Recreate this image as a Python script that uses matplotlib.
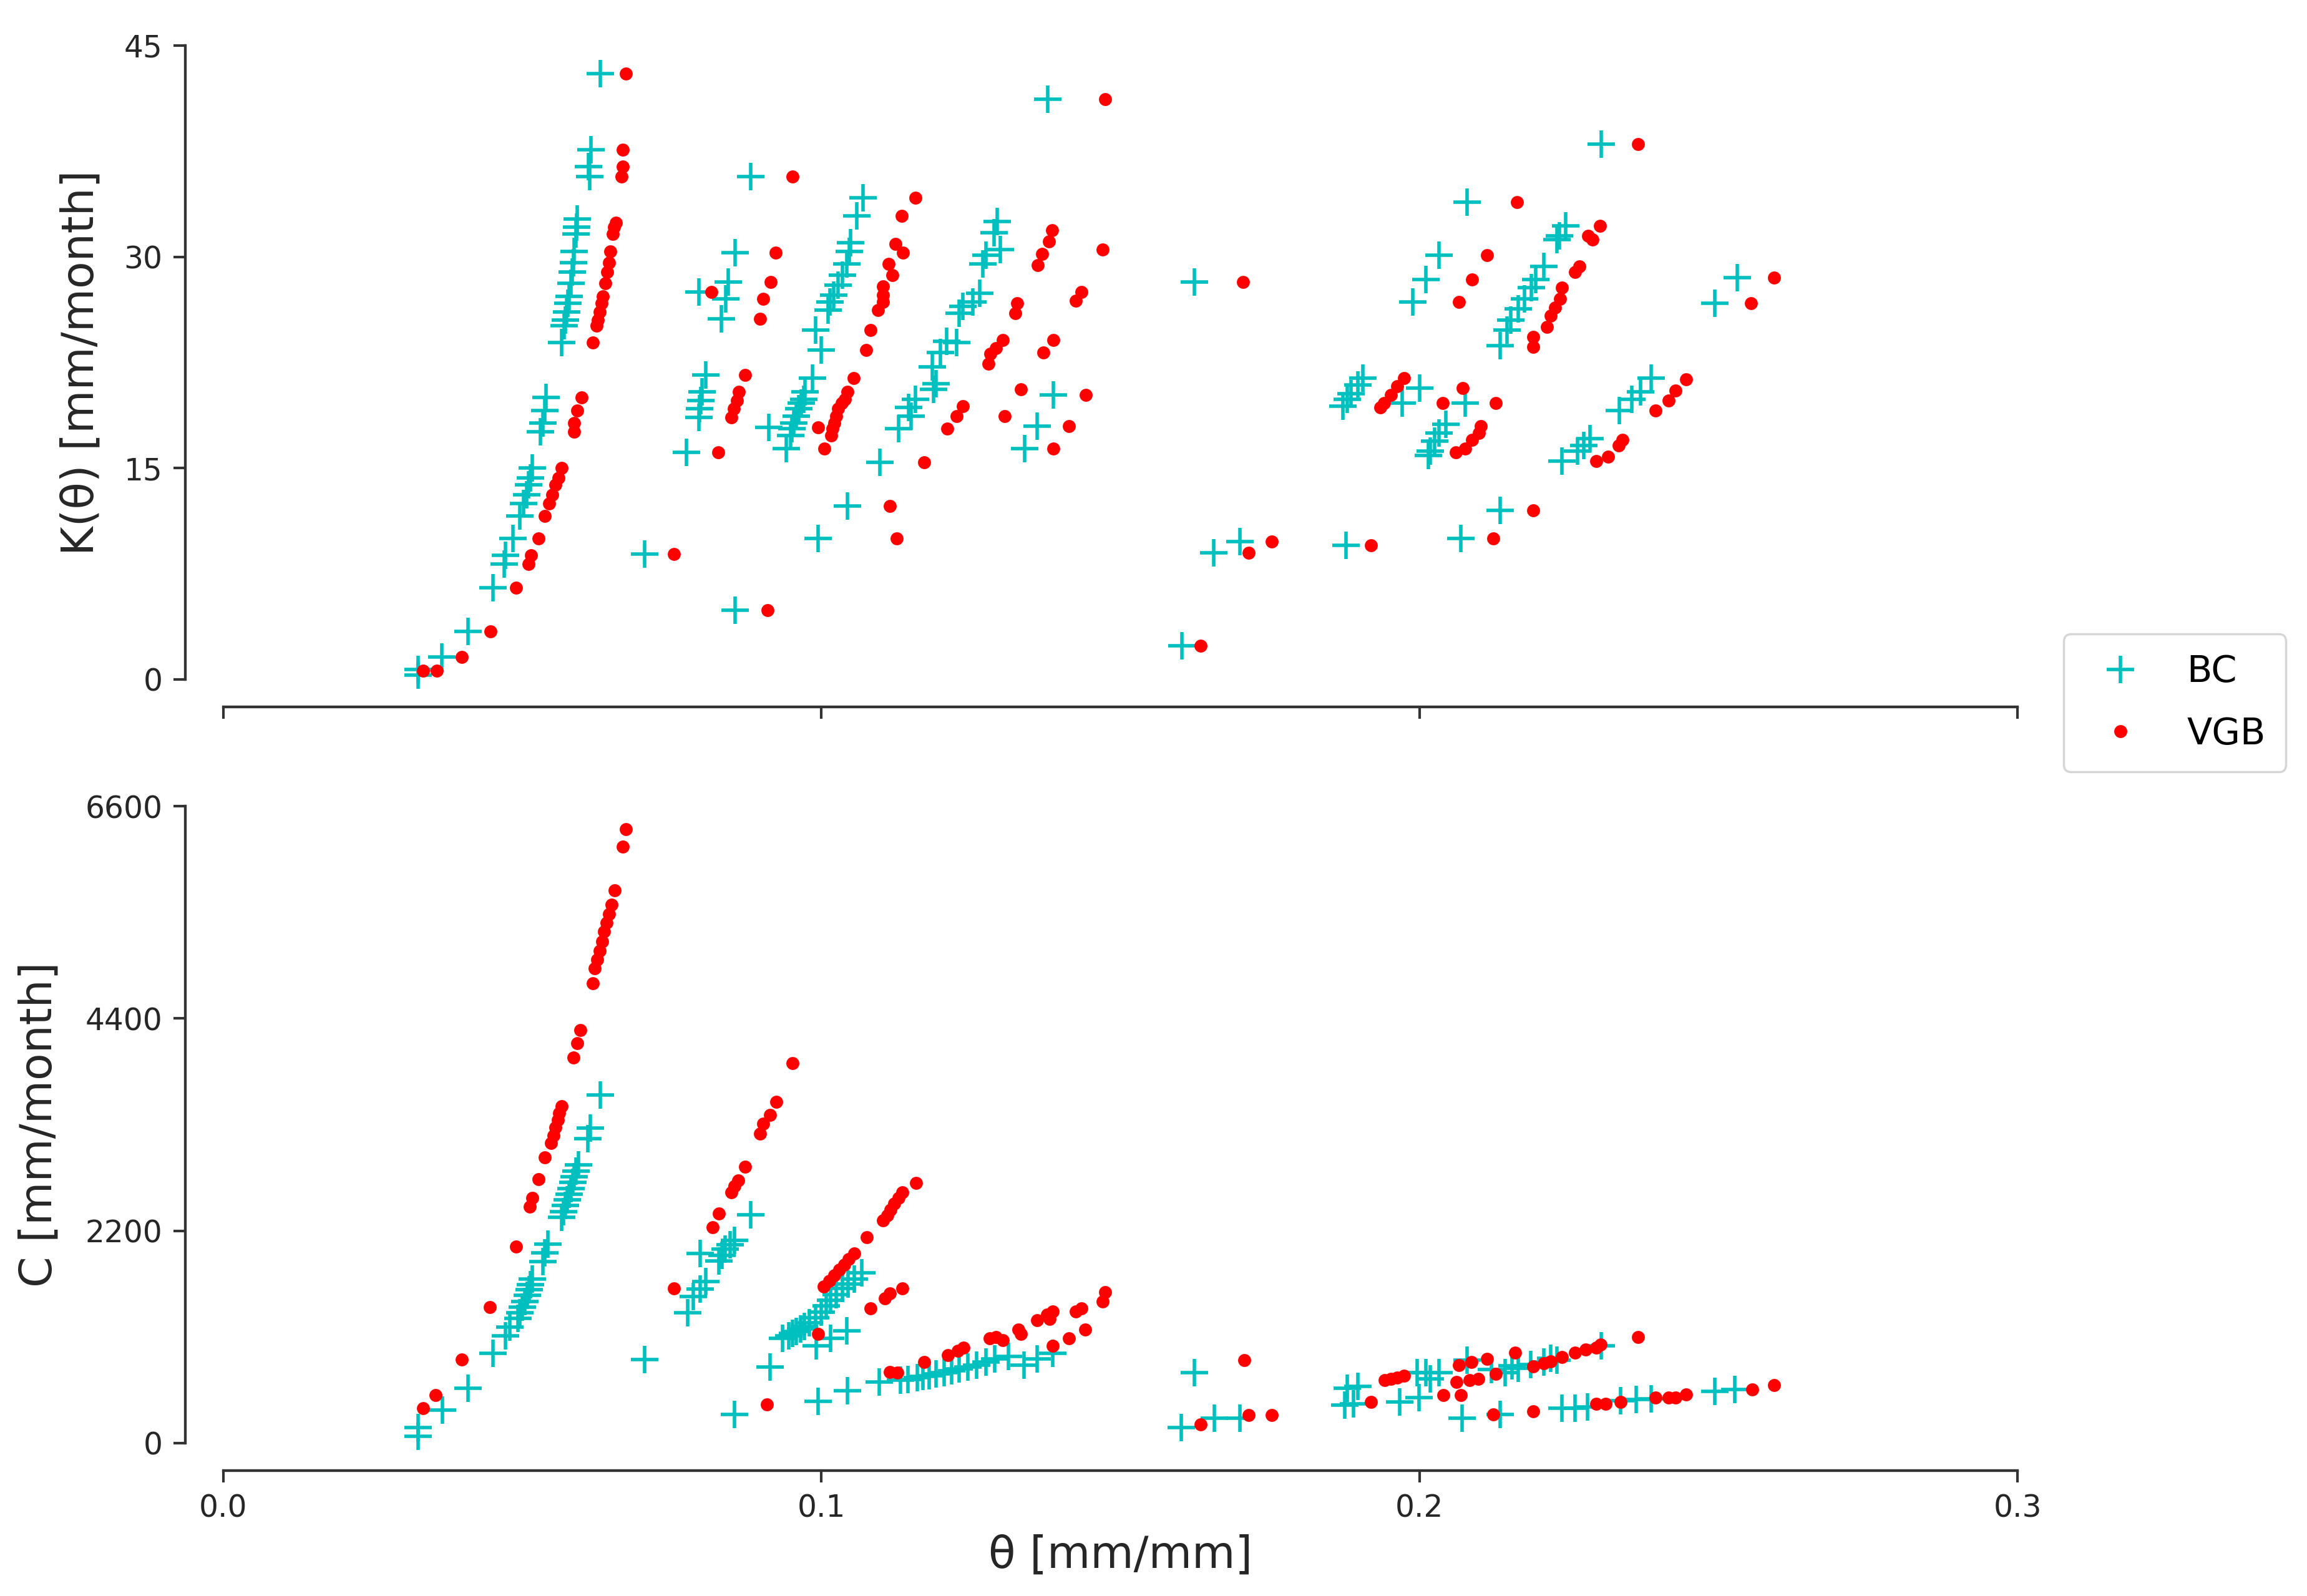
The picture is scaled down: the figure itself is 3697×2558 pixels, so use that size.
import matplotlib
matplotlib.use("Agg")
import matplotlib.pyplot as plt

# ---------------- data: upper panel K(theta) ----------------
theta_bc_k = [
    0.0326, 0.0326, 0.0365, 0.0409, 0.0451, 0.0470, 0.0472, 0.0484, 0.0496, 0.0502,
    0.0507, 0.0510, 0.0513, 0.0517, 0.0530, 0.0534, 0.0537, 0.0540,
    0.0566, 0.0570, 0.0572, 0.0574, 0.0576, 0.0578, 0.0581, 0.0583, 0.0585, 0.0587,
    0.0590, 0.0591, 0.0592, 0.0613, 0.0611, 0.0615, 0.0630,
    0.0704, 0.0882, 0.0856, 0.0844, 0.0795, 0.0840, 0.0833, 0.0807, 0.0800, 0.0798,
    0.0796, 0.0795, 0.0774, 0.0856,
    0.1070, 0.1059, 0.1049, 0.1047, 0.1042, 0.1035, 0.1028, 0.1021, 0.1014, 0.1011,
    0.0990, 0.1000,
    0.0985, 0.0973, 0.0970, 0.0966, 0.0962, 0.0958, 0.0954, 0.0951, 0.0949, 0.0912,
    0.0941, 0.1098, 0.1044, 0.0995,
    0.1237, 0.1230, 0.1209, 0.1226, 0.1199, 0.1185, 0.1192, 0.1188, 0.1157, 0.1146,
    0.1150, 0.1129, 0.1294, 0.1289, 0.1299, 0.1275, 0.1270, 0.1265, 0.1253,
    0.1388, 0.1361, 0.1340, 0.1378, 0.1603,
    0.2304, 0.2080, 0.2033, 0.2011, 0.1989, 0.1624, 0.2531, 0.2494,
    0.2245, 0.2234, 0.2230, 0.2208, 0.2194, 0.2187, 0.2176, 0.2165, 0.2153, 0.2146, 0.2135,
    0.1905, 0.1897, 0.1886, 0.1879, 0.1872, 0.2000, 0.1971, 0.2077,
    0.2044, 0.2033, 0.2025, 0.2018, 0.2015,
    0.2388, 0.2370, 0.2355, 0.2334, 0.2285, 0.2275, 0.2264, 0.2238,
    0.2135, 0.2069, 0.1700, 0.1656, 0.1877,
]
k_bc = [
    0.7, 0.3, 1.6, 3.4, 6.5, 8.2, 8.8, 10.0, 11.6, 12.5,
    13.1, 13.8, 14.3, 15.0, 17.6, 18.2, 19.1, 20.0,
    23.9, 25.1, 25.5, 26.1, 26.7, 27.2, 28.1, 28.9, 29.6, 30.4,
    31.6, 32.1, 32.7, 35.7, 36.4, 37.6, 43.0,
    8.9, 35.7, 30.3, 28.2, 27.5, 27.0, 25.6, 21.6, 20.4, 19.8,
    19.2, 18.6, 16.1, 4.9,
    34.2, 32.9, 31.0, 30.4, 29.5, 28.7, 28.0, 27.3, 26.8, 26.2,
    24.8, 23.4,
    21.4, 20.4, 19.9, 19.6, 19.2, 18.7, 18.2, 17.8, 17.3, 17.9,
    16.4, 15.4, 12.3, 10.0,
    26.5, 26.0, 24.0, 23.9, 23.2, 22.2, 21.0, 20.6, 19.9, 19.3,
    18.7, 17.8, 32.5, 31.7, 30.5, 30.1, 29.5, 27.4, 26.8,
    20.2, 18.0, 16.4, 41.2, 2.4,
    38.0, 33.9, 30.1, 28.4, 26.8, 28.2, 28.5, 26.7,
    32.2, 31.5, 31.2, 29.3, 28.4, 27.8, 27.0, 26.3, 25.5, 24.8, 23.7,
    21.4, 20.9, 20.3, 19.9, 19.4, 20.7, 19.6, 19.6,
    18.1, 17.5, 16.9, 16.2, 15.9,
    21.4, 20.4, 19.9, 19.1, 17.1, 16.6, 16.2, 15.5,
    12.0, 10.0, 9.8, 9.0, 9.5,
]
theta_vgb_k = [
    0.0334, 0.0357, 0.0399, 0.0447, 0.0489, 0.0510, 0.0515, 0.0527, 0.0538, 0.0545,
    0.0550, 0.0555, 0.0560, 0.0566, 0.0587, 0.0587, 0.0592, 0.0599,
    0.0618, 0.0624, 0.0626, 0.0629, 0.0632, 0.0635, 0.0639, 0.0642, 0.0645, 0.0647,
    0.0651, 0.0653, 0.0656, 0.0666, 0.0668, 0.0668, 0.0673,
    0.0753, 0.0952, 0.0924, 0.0915, 0.0816, 0.0903, 0.0898, 0.0872, 0.0862, 0.0859,
    0.0854, 0.0850, 0.0828, 0.0910,
    0.1157, 0.1134, 0.1124, 0.1136, 0.1112, 0.1119, 0.1103, 0.1103, 0.1103, 0.1095,
    0.1082, 0.1075,
    0.1054, 0.1044, 0.1039, 0.1034, 0.1028, 0.1025, 0.1022, 0.1019, 0.1016, 0.0995,
    0.1005, 0.1172, 0.1114, 0.1126,
    0.1386, 0.1381, 0.1369, 0.1362, 0.1470, 0.1435, 0.1425, 0.1327, 0.1324, 0.1303,
    0.1292, 0.1282, 0.1279, 0.1388, 0.1371, 0.1334, 0.1237, 0.1226, 0.1211, 0.1307,
    0.1442, 0.1414, 0.1388, 0.1474, 0.1634,
    0.2366, 0.2163, 0.2113, 0.2088, 0.2066, 0.1705, 0.2593, 0.2554,
    0.2302, 0.2282, 0.2289, 0.2268, 0.2260, 0.2238, 0.2235, 0.2227, 0.2220, 0.2213,
    0.2190, 0.2190,
    0.1974, 0.1963, 0.1952, 0.1941, 0.1935, 0.2072, 0.2039, 0.2128,
    0.2103, 0.2099, 0.2088, 0.2077, 0.2061,
    0.2446, 0.2428, 0.2417, 0.2395, 0.2340, 0.2333, 0.2315, 0.2296,
    0.2190, 0.2124, 0.1753, 0.1714, 0.1919,
]
k_vgb = [
    0.6, 0.6, 1.6, 3.4, 6.5, 8.2, 8.8, 10.0, 11.6, 12.5,
    13.1, 13.8, 14.3, 15.0, 17.6, 18.2, 19.1, 20.0,
    23.9, 25.1, 25.5, 26.1, 26.7, 27.2, 28.1, 28.9, 29.6, 30.4,
    31.6, 32.1, 32.4, 35.7, 36.4, 37.6, 43.0,
    8.9, 35.7, 30.3, 28.2, 27.5, 27.0, 25.6, 21.6, 20.4, 19.8,
    19.2, 18.6, 16.1, 4.9,
    34.2, 32.9, 30.9, 30.3, 29.5, 28.7, 27.9, 27.3, 26.8, 26.2,
    24.8, 23.4,
    21.4, 20.4, 19.9, 19.6, 19.2, 18.7, 18.2, 17.8, 17.3, 17.9,
    16.4, 15.4, 12.3, 10.0,
    31.9, 31.1, 30.2, 29.4, 30.5, 27.5, 26.9, 26.7, 26.0, 24.1,
    23.5, 23.1, 22.4, 24.1, 23.2, 20.6, 19.4, 18.7, 17.8, 18.7,
    20.2, 18.0, 16.4, 41.2, 2.4,
    38.0, 33.9, 30.1, 28.4, 26.8, 28.2, 28.5, 26.7,
    32.2, 31.5, 31.2, 29.3, 28.9, 27.8, 27.0, 26.4, 25.8, 25.0,
    24.3, 23.6,
    21.4, 20.8, 20.2, 19.6, 19.3, 20.7, 19.6, 19.6,
    18.0, 17.5, 17.0, 16.4, 16.1,
    21.3, 20.5, 19.8, 19.1, 17.0, 16.6, 15.8, 15.5,
    12.0, 10.0, 9.8, 9.0, 9.5,
]

# ---------------- data: lower panel C(theta) ----------------
theta_bc_c = [
    0.0326, 0.0326, 0.0366, 0.0409, 0.0451, 0.0472, 0.0479, 0.0493, 0.0496, 0.0500,
    0.0504, 0.0508, 0.0511, 0.0514, 0.0517, 0.0534, 0.0538, 0.0543,
    0.0566, 0.0569, 0.0572, 0.0575, 0.0578, 0.0581, 0.0584, 0.0587, 0.0590, 0.0594,
    0.0609, 0.0614, 0.0630, 0.0704,
    0.0882, 0.0855, 0.0847, 0.0839, 0.0834, 0.0829, 0.0797, 0.0807, 0.0797, 0.0786,
    0.0776, 0.0914, 0.0855,
    0.0935, 0.0945, 0.0952, 0.0958, 0.0965, 0.0972, 0.0980, 0.0990, 0.1000, 0.1008,
    0.1015, 0.1025, 0.1035, 0.1045, 0.1055, 0.1068,
    0.1042, 0.1015, 0.0991, 0.0994, 0.1044, 0.1097,
    0.1132, 0.1145, 0.1160, 0.1170, 0.1180, 0.1192, 0.1205, 0.1218, 0.1230, 0.1245,
    0.1260, 0.1275, 0.1290, 0.1313, 0.1339, 0.1361, 0.1387,
    0.1624, 0.1602, 0.1657, 0.1700, 0.1879, 0.1897, 0.1890, 0.1875,
    0.1996, 0.2011, 0.2033, 0.2018, 0.1967, 0.1999, 0.2071, 0.2135,
    0.2080, 0.2143, 0.2165, 0.2186, 0.2208, 0.2230, 0.2304, 0.2120, 0.2155, 0.2220,
    0.2238, 0.2260, 0.2281, 0.2336, 0.2362, 0.2388, 0.2494, 0.2527,
]
c_bc = [
    160, 70, 343, 569, 931, 1113, 1200, 1290, 1350, 1410,
    1470, 1530, 1590, 1640, 1700, 1882, 1973, 2064,
    2337, 2400, 2460, 2520, 2580, 2640, 2700, 2760, 2820, 2881,
    3154, 3267, 3607, 863,
    2367, 2102, 2056, 2009, 1948, 1887, 1964, 1672, 1595, 1518,
    1348, 790, 296,
    1084, 1110, 1140, 1160, 1185, 1210, 1250, 1300, 1360, 1420,
    1480, 1540, 1600, 1650, 1700, 1765,
    1163, 1084, 1009, 435, 543, 636,
    650, 660, 680, 690, 700, 715, 730, 750, 770, 790,
    810, 840, 870, 900, 810, 870, 930,
    730, 160, 261, 261, 569, 590, 407, 397,
    730, 730, 730, 666, 428, 471, 256, 299,
    860, 730, 773, 817, 838, 860, 1010, 760, 800, 880,
    363, 363, 374, 439, 450, 460, 536, 558,
]
theta_vgb_c = [
    0.0673, 0.0668, 0.0654, 0.0649, 0.0645, 0.0641, 0.0637, 0.0633, 0.0629, 0.0625,
    0.0621, 0.0618, 0.0597, 0.0592, 0.0586, 0.0566, 0.0562, 0.0559, 0.0555, 0.0552,
    0.0548, 0.0538, 0.0527, 0.0517, 0.0512, 0.0489, 0.0446, 0.0399, 0.0355, 0.0334,
    0.0753,
    0.0952, 0.0925, 0.0914, 0.0903, 0.0898, 0.0872, 0.0861, 0.0855, 0.0850, 0.0829,
    0.0818, 0.0909,
    0.1158, 0.1135, 0.1129, 0.1122, 0.1116, 0.1110, 0.1103, 0.1076,
    0.1055, 0.1046, 0.1038, 0.1030, 0.1022, 0.1013, 0.1004,
    0.1135, 0.1114, 0.1106, 0.1082, 0.0995,
    0.1114, 0.1127, 0.1172, 0.1212, 0.1228, 0.1238, 0.1281, 0.1292, 0.1303, 0.1329,
    0.1334, 0.1361, 0.1377, 0.1387, 0.1382, 0.1425, 0.1435, 0.1470, 0.1475, 0.1387,
    0.1414, 0.1441,
    0.1707, 0.1634, 0.1714, 0.1753, 0.1919, 0.1942, 0.1952, 0.1963, 0.1974, 0.2040,
    0.2069, 0.2066, 0.2087, 0.2113, 0.2160, 0.2062, 0.2084, 0.2098, 0.2128, 0.2190,
    0.2208, 0.2219, 0.2238, 0.2260, 0.2278, 0.2296, 0.2303, 0.2366, 0.2124, 0.2190,
    0.2296, 0.2311, 0.2336, 0.2395, 0.2417, 0.2428, 0.2446, 0.2556, 0.2593,
]
c_vgb = [
    6363, 6182, 5729, 5578, 5480, 5390, 5300, 5200, 5100, 5010,
    4922, 4763, 4278, 4142, 3998, 3493, 3420, 3350, 3270, 3190,
    3108, 2962, 2736, 2541, 2450, 2033, 1407, 863, 500, 364,
    1603,
    3935, 3533, 3403, 3310, 3204, 2862, 2723, 2661, 2599, 2377,
    2235, 398,
    2698, 2598, 2540, 2480, 2420, 2360, 2306, 2136,
    1965, 1910, 1850, 1800, 1740, 1680, 1625,
    1603, 1548, 1500, 1393, 1131,
    738, 730, 837, 911, 958, 989, 1084, 1100, 1069, 1178,
    1131, 1271, 1333, 1364, 1287, 1364, 1395, 1470, 1564, 1008,
    1084, 1178,
    860, 192, 289, 289, 429, 655, 666, 676, 698, 495,
    495, 806, 838, 871, 935, 633, 655, 666, 720, 795,
    828, 849, 892, 935, 967, 989, 1021, 1097, 299, 332,
    407, 407, 428, 471, 471, 471, 504, 558, 601,
]

series_labels = ["BC", "VGB"]
x_ticks = [0.0, 0.1, 0.2, 0.3]
k_ticks = [0, 15, 30, 45]
c_ticks = [0, 2200, 4400, 6600]

# ---------------- figure ----------------
DPI = 250
fig = plt.figure(figsize=(3697 / DPI, 2558 / DPI), dpi=DPI)
ax1 = fig.add_axes([0.0968, 0.5743, 0.7777, 0.3972])
ax2 = fig.add_axes([0.0968, 0.0958, 0.7777, 0.3991])

bc_style = dict(linestyle="none", marker="+", color="c", ms=12.5, mew=1.6, clip_on=False)
vgb_style = dict(linestyle="none", marker="o", color="r", ms=6, mew=0, clip_on=False)

h_bc, = ax1.plot(theta_bc_k, k_bc, label=series_labels[0], **bc_style)
h_vgb, = ax1.plot(theta_vgb_k, k_vgb, label=series_labels[1], **vgb_style)
ax2.plot(theta_bc_c, c_bc, **bc_style)
ax2.plot(theta_vgb_c, c_vgb, **vgb_style)

spine_col = "0.2"
for ax, yt in ((ax1, k_ticks), (ax2, c_ticks)):
    ax.set_xlim(x_ticks[0], x_ticks[-1])
    ax.set_ylim(yt[0], yt[-1])
    ax.set_xticks(x_ticks)
    ax.set_yticks(yt)
    for s in ("top", "right"):
        ax.spines[s].set_visible(False)
    ax.spines["left"].set_position(("outward", 17.6))
    ax.spines["bottom"].set_position(("outward", 12.8))
    ax.spines["left"].set_bounds(yt[0], yt[-1])
    ax.spines["bottom"].set_bounds(x_ticks[0], x_ticks[-1])
    for s in ("left", "bottom"):
        ax.spines[s].set_linewidth(1.25)
        ax.spines[s].set_color(spine_col)
    ax.tick_params(direction="out", length=5.5, width=1.2, color=spine_col,
                   labelsize=14, labelcolor="0.15", pad=5)

ax1.tick_params(axis="x", labelbottom=False)

ax1.set_ylabel("K(θ) [mm/month]", fontsize=20.5, color="0.15")
ax1.yaxis.set_label_coords(-0.0671, 0.5)
ax2.set_ylabel("C [mm/month]", fontsize=20.5, color="0.15")
ax2.yaxis.set_label_coords(-0.0904, 0.5)
ax2.set_xlabel("θ [mm/mm]", fontsize=20.5, color="0.15")
ax2.xaxis.set_label_coords(0.5, -0.143)

fig.legend([h_bc, h_vgb], series_labels, loc="center",
           bbox_to_anchor=(0.9427, 0.5596), fontsize=17, numpoints=1,
           borderpad=0.55, labelspacing=0.72)

fig.savefig("out.png", dpi=DPI)
